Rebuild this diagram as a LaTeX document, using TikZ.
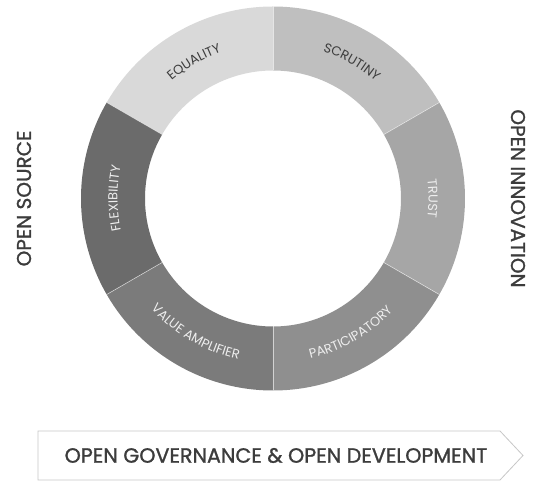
\documentclass[tikz,border=0pt]{standalone}
\usepackage{fontspec}
\setmainfont{Poppins}
\newfontfamily\boldish{Poppins}[FakeBold=1.2]
\newcommand\segfont{\fontsize{13}{15}\selectfont}
\usetikzlibrary{decorations.text}
\definecolor{segEquality}{HTML}{D9D9D9}
\definecolor{segScrutiny}{HTML}{BFBFBF}
\definecolor{segTrust}{HTML}{A6A6A6}
\definecolor{segPartic}{HTML}{8F8F8F}
\definecolor{segValue}{HTML}{7B7B7B}
\definecolor{segFlex}{HTML}{6B6B6B}
\definecolor{darktext}{HTML}{3C3C3C}
\definecolor{lighttext}{HTML}{EEEEEE}
\begin{document}
\begin{tikzpicture}[x=1pt,y=1pt,
	divider/.style={white, opacity=0.6, line width=0.6pt},
	seg label/.style 2 args={decorate, decoration={text along path,
		text={|\segfont|#1}, text align=center, text color=#2}},
	side label/.style={font=\boldish\fontsize{20}{24}\selectfont, text=darktext},
	banner/.style={draw=black!22, line width=0.8pt, fill=white},
	banner text/.style={text=darktext, font=\boldish\fontsize{20.6}{24}\selectfont}]
	
	\useasboundingbox (-273,-282.5) rectangle (260,198.5);
	\foreach \s/\c in {30/segScrutiny,90/segEquality,150/segFlex,210/segValue,270/segPartic,330/segTrust} {
		\pgfmathsetmacro{\e}{\s+60}
		\fill[\c] (\s:128) -- (\s:192) arc[start angle=\s, end angle=\e, radius=192]
			-- (\e:128) arc[start angle=\e, end angle=\s, radius=128] -- cycle;
	}
	\foreach \s in {30,90,...,330}
		\draw[divider] (\s:128) -- (\s:192);
	
	\path[seg label={EQUALITY}{darktext}] (150:155.5) arc[start angle=150, end angle=90, radius=155.5];
	\path[seg label={SCRUTINY}{darktext}] (90:155.5) arc[start angle=90, end angle=30, radius=155.5];
	\path[seg label={TRUST}{lighttext}] (30:155.5) arc[start angle=30, end angle=-30, radius=155.5];
	\path[seg label={PARTICIPATORY}{lighttext}] (-90:164.5) arc[start angle=-90, end angle=-30, radius=164.5];
	\path[seg label={VALUE AMPLIFIER}{lighttext}] (-150:164.5) arc[start angle=-150, end angle=-90, radius=164.5];
	\path[seg label={FLEXIBILITY}{lighttext}] (210:155.5) arc[start angle=210, end angle=150, radius=155.5];
	
	\node[side label, rotate=90] (source) at (-249,0) {OPEN SOURCE};
	\node[side label, rotate=-90] (innovation) at (245,0) {OPEN INNOVATION};
	
	\draw[banner] (-235,-232.5) coordinate (bannerNW) -- (227,-232.5) -- (250,-257) coordinate (bannerTip)
		-- (227,-281.5) -- (-235,-281.5) -- cycle;
	\node[banner text] (governance) at (3,-257) {OPEN GOVERNANCE \& OPEN DEVELOPMENT};
\end{tikzpicture}
\end{document}
